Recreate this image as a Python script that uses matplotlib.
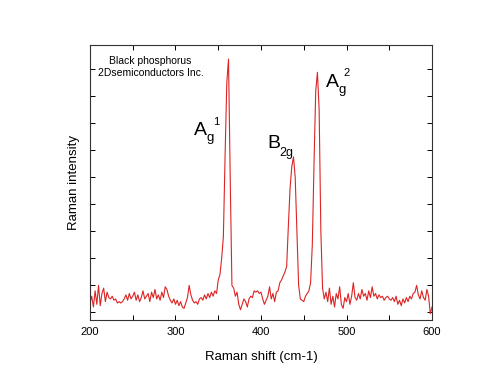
import numpy as np
import matplotlib
matplotlib.use("Agg")
import matplotlib.pyplot as plt
from matplotlib.ticker import MultipleLocator, NullFormatter

plt.rcParams['font.family'] = ['Liberation Sans', 'DejaVu Sans']

# Raman shift grid (cm-1), one point every 2 cm-1
shift = np.arange(200, 601, 2)

# intensity (arb. units)
intensity = [
    0.35, 0.60, 0.20, 0.80, 0.30, 1.00, 0.25, 0.70, 0.90, 0.40,   # 200-218
    0.75, 0.55, 0.50, 0.60, 0.45, 0.50, 0.35, 0.40, 0.35, 0.40,   # 220-238
    0.50, 0.65, 0.45, 0.70, 0.50, 0.60, 0.75, 0.45, 0.65, 0.40,   # 240-258
    0.55, 0.80, 0.50, 0.60, 0.70, 0.40, 0.75, 0.55, 0.85, 0.50,   # 260-278
    0.65, 0.45, 0.75, 0.55, 0.95, 0.85, 0.60, 0.45, 0.35, 0.50,   # 280-298
    0.30, 0.45, 0.25, 0.40, 0.20, 0.15, 0.35, 0.55, 1.00, 0.65,   # 300-318
    0.45, 0.35, 0.40, 0.30, 0.50, 0.55, 0.45, 0.65, 0.50, 0.70,   # 320-338
    0.55, 0.75, 0.60, 0.80, 0.70, 1.20, 1.40, 2.00, 2.80, 5.80,   # 340-358
    8.50, 9.38, 5.00, 1.00, 0.90, 0.60, 0.75, 0.30, 0.10, 0.30,   # 360-378
    0.50, 0.40, 0.20, 0.50, 0.60, 0.55, 0.80, 0.75, 0.80, 0.70,   # 380-398
    0.75, 0.50, 0.30, 0.45, 0.60, 0.95, 0.50, 0.70, 0.40, 0.75,   # 400-418
    0.80, 1.10, 1.20, 1.35, 1.50, 1.70, 3.20, 4.60, 5.40, 5.76,   # 420-438
    5.00, 3.00, 1.00, 0.50, 0.45, 0.40, 0.60, 0.70, 0.80, 1.10,   # 440-458
    2.50, 5.50, 8.20, 8.89, 7.50, 3.00, 0.90, 0.50, 0.75, 0.40,   # 460-478
    0.90, 0.30, 0.60, 0.20, 0.70, 0.50, 0.95, 0.30, 0.15, 0.55,   # 480-498
    0.40, 0.70, 0.30, 0.60, 1.10, 0.55, 0.45, 0.70, 0.50, 0.85,   # 500-518
    0.60, 0.70, 0.45, 0.80, 0.55, 0.95, 0.60, 0.70, 0.50, 0.65,   # 520-538
    0.55, 0.60, 0.45, 0.55, 0.60, 0.50, 0.45, 0.55, 0.40, 0.60,   # 540-558
    0.30, 0.45, 0.25, 0.50, 0.35, 0.55, 0.40, 0.60, 0.50, 0.70,   # 560-578
    0.75, 1.00, 0.65, 0.50, 0.80, 0.55, 0.45, 0.85, 0.60, -0.05,  # 580-598
    0.20,                                                          # 600
]

fig = plt.figure(figsize=(5.01, 3.84), dpi=100)
ax = fig.add_axes([0.1796, 0.1667, 0.6827, 0.7161])

ax.plot(shift, intensity, color='#dc2424', lw=0.8)

ax.set_xlim(200, 600)
ax.set_ylim(-0.28, 9.9)

ax.xaxis.set_major_locator(MultipleLocator(100))
ax.xaxis.set_minor_locator(MultipleLocator(50))
ax.yaxis.set_major_locator(MultipleLocator(1))
ax.yaxis.set_major_formatter(NullFormatter())
ax.tick_params(which='both', direction='in', top=True, right=True,
               length=3.5, width=0.7, labelsize=8, pad=5)
for s in ax.spines.values():
    s.set_linewidth(0.8)
    s.set_color('#333333')

ax.set_xlabel('Raman shift (cm-1)', fontsize=9.5, labelpad=10)
ax.set_ylabel('Raman intensity', fontsize=9.5, labelpad=2)


# helper: picture pixel -> data coords, for placing the labels
def px(x, y):
    return 200 + (x - 90) / 342 * 400, (312.3 - y) / 27


ax.text(*px(150, 61), 'Black phosphorus', fontsize=7.5, ha='center', va='center')
ax.text(*px(151, 73), '2Dsemiconductors Inc.', fontsize=7.5, ha='center', va='center')

# peak labels
ax.text(*px(194, 135), 'A', fontsize=14, ha='left', va='baseline')
ax.text(*px(206.5, 141), 'g', fontsize=9.5, ha='left', va='baseline')
ax.text(*px(213.5, 125), '1', fontsize=8, ha='left', va='baseline')

ax.text(*px(267, 148), 'B', fontsize=14, ha='left', va='baseline')
ax.text(*px(279.5, 156), '2g', fontsize=9, ha='left', va='baseline')

ax.text(*px(326, 87), 'A', fontsize=14, ha='left', va='baseline')
ax.text(*px(338.5, 93), 'g', fontsize=9.5, ha='left', va='baseline')
ax.text(*px(343, 76), '2', fontsize=8, ha='left', va='baseline')

fig.savefig('out.png', dpi=100)
